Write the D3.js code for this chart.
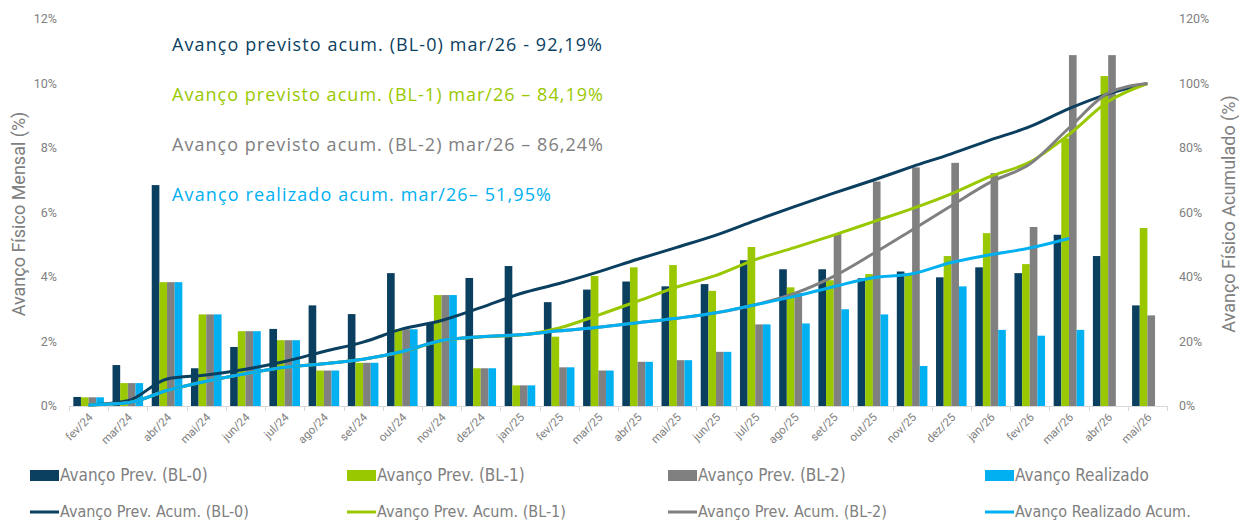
<!DOCTYPE html>
<html>
<head>
<meta charset="utf-8">
<script src="https://cdn.jsdelivr.net/npm/d3@7"></script>
<style>
  body { margin: 0; background: #fff; }
  svg { display: block; }
</style>
</head>
<body>
<svg id="chart"></svg>
<script>
var months = ["fev/24", "mar/24", "abr/24", "mai/24", "jun/24", "jul/24", "ago/24", "set/24", "out/24", "nov/24", "dez/24",
    "jan/25", "fev/25", "mar/25", "abr/25", "mai/25", "jun/25", "jul/25", "ago/25", "set/25", "out/25", "nov/25", "dez/25",
    "jan/26", "fev/26", "mar/26", "abr/26", "mai/26"];

// monthly (%)
var prevBL0 = [0.28, 1.27, 6.85, 1.17, 1.83, 2.39, 3.12, 2.85, 4.12, 2.57, 3.97, 4.34, 3.22, 3.61, 3.86, 3.71, 3.78, 4.52, 4.24, 4.24, 3.96, 4.17, 3.99, 4.30, 4.12, 5.31, 4.65, 3.12];
var prevBL1 = [0.27, 0.71, 3.84, 2.84, 2.32, 2.04, 1.10, 1.34, 2.38, 3.44, 1.17, 0.64, 2.15, 4.03, 4.30, 4.37, 3.57, 4.93, 3.68, 3.90, 4.09, 4.12, 4.65, 5.36, 4.40, 8.30, 10.23, 5.52];
var prevBL2 = [0.27, 0.71, 3.84, 2.84, 2.32, 2.04, 1.10, 1.34, 2.38, 3.44, 1.17, 0.64, 1.20, 1.10, 1.37, 1.42, 1.68, 2.53, 3.50, 5.33, 6.96, 7.40, 7.54, 7.22, 5.55, 10.88, 10.88, 2.81];
var realizado = [0.27, 0.71, 3.84, 2.84, 2.32, 2.04, 1.10, 1.34, 2.38, 3.44, 1.17, 0.64, 1.20, 1.10, 1.37, 1.42, 1.68, 2.53, 2.56, 3.00, 2.84, 1.24, 3.71, 2.36, 2.18, 2.36, null, null];

// cumulative (%)
var acumBL0 = [0.3, 1.6, 8.4, 9.6, 11.4, 13.8, 16.9, 19.8, 23.9, 26.5, 30.5, 34.8, 38.0, 41.6, 45.5, 49.2, 53.0, 57.5, 61.8, 66.0, 70.0, 74.2, 78.2, 82.5, 86.6, 92.2, 96.8, 100];
var acumBL1 = [0.3, 1.0, 4.8, 7.7, 10.0, 12.0, 13.1, 14.5, 16.8, 20.2, 21.4, 22.0, 24.2, 28.2, 32.5, 36.9, 40.5, 45.4, 49.1, 53.0, 57.1, 61.2, 65.8, 71.2, 75.6, 84.2, 94.4, 100];
var acumBL2 = [0.3, 1.0, 4.8, 7.7, 10.0, 12.0, 13.1, 14.5, 16.9, 20.3, 21.5, 22.1, 23.3, 24.4, 25.8, 27.2, 28.9, 31.4, 34.9, 40.2, 47.2, 54.6, 62.1, 69.4, 75.0, 86.2, 97.0, 100];
var acumReal = [0.3, 1.0, 4.8, 7.7, 10.0, 12.0, 13.1, 14.5, 16.9, 20.3, 21.5, 22.1, 23.3, 24.4, 25.8, 27.2, 28.9, 31.4, 34.0, 37.0, 39.8, 41.0, 44.5, 46.9, 49.0, 51.95, null, null];

var leftTicks = [0, 2, 4, 6, 8, 10, 12];
var rightTicks = [0, 20, 40, 60, 80, 100, 120];

var notes = [
    "Avanço previsto acum. (BL-0) mar/26 - 92,19%",
    "Avanço previsto acum. (BL-1) mar/26 – 84,19%",
    "Avanço previsto acum. (BL-2) mar/26 – 86,24%",
    "Avanço realizado acum. mar/26– 51,95%"
];
var noteWidths = [430, 431, 431, 379];

var barNames = ["Avanço Prev. (BL-0)", "Avanço Prev. (BL-1)", "Avanço Prev. (BL-2)", "Avanço Realizado"];
var lineNames = ["Avanço Prev. Acum. (BL-0)", "Avanço Prev. Acum. (BL-1)", "Avanço Prev. Acum. (BL-2)", "Avanço Realizado Acum."];

var colors = ["#0b3f5f", "#99c800", "#808080", "#00b0f0"];
var textGray = "#808080";

var W = 1239, H = 521;
var margin = { top: 19, right: 72, bottom: 115, left: 69 };

var svg = d3.select("#chart").attr("width", W).attr("height", H);

var x = d3.scaleBand()
    .domain(months)
    .range([margin.left, W - margin.right])
    .paddingInner(0.22)
    .paddingOuter(0.11);

var xs = d3.scaleBand().domain([0, 1, 2, 3]).range([0, x.bandwidth()]);

var yL = d3.scaleLinear().domain([0, 12]).range([H - margin.bottom, margin.top]);
var yR = d3.scaleLinear().domain([0, 120]).range([H - margin.bottom, margin.top]);

var barSeries = [prevBL0, prevBL1, prevBL2, realizado];
var lineSeries = [acumBL0, acumBL1, acumBL2, acumReal];

// x axis baseline + ticks at band boundaries
var x0 = margin.left, x1 = W - margin.right, yb = yL(0);
svg.append("line")
    .attr("x1", x0).attr("x2", x1).attr("y1", yb + 0.5).attr("y2", yb + 0.5)
    .attr("stroke", "#d9d9d9").attr("stroke-width", 1);
svg.append("g").selectAll("line")
    .data(d3.range(months.length + 1))
    .enter().append("line")
    .attr("x1", function (i) { return Math.round(x0 + i * x.step()) + 0.5; })
    .attr("x2", function (i) { return Math.round(x0 + i * x.step()) + 0.5; })
    .attr("y1", yb).attr("y2", yb + 5)
    .attr("stroke", "#d9d9d9");

// bars
var groups = svg.append("g").selectAll("g")
    .data(months)
    .enter().append("g")
    .attr("transform", function (d) { return "translate(" + x(d) + ",0)"; });

groups.selectAll("rect")
    .data(function (d, i) {
        return barSeries.map(function (s, k) { return { k: k, v: s[i] }; })
            .filter(function (o) { return o.v != null; });
    })
    .enter().append("rect")
    .attr("x", function (d) { return xs(d.k); })
    .attr("width", xs.bandwidth())
    .attr("y", function (d) { return yL(d.v); })
    .attr("height", function (d) { return yL(0) - yL(d.v); })
    .attr("fill", function (d) { return colors[d.k]; });

// cumulative lines
var line = d3.line()
    .defined(function (d) { return d.v != null; })
    .x(function (d) { return x(d.m) + x.bandwidth() / 2; })
    .y(function (d) { return yR(d.v); })
    .curve(d3.curveMonotoneX);

lineSeries.forEach(function (s, k) {
    svg.append("path")
        .datum(s.map(function (v, i) { return { m: months[i], v: v }; }))
        .attr("fill", "none")
        .attr("stroke", colors[k])
        .attr("stroke-width", 3)
        .attr("stroke-linejoin", "round")
        .attr("d", line);
});

// left axis labels
svg.append("g").selectAll("text")
    .data(leftTicks)
    .enter().append("text")
    .attr("x", 57).attr("y", function (d) { return yL(d); })
    .attr("dy", "0.35em")
    .attr("text-anchor", "end")
    .attr("font-family", "Roboto, sans-serif").attr("font-size", 12.5)
    .attr("fill", textGray)
    .text(function (d) { return d + "%"; });

// right axis labels
svg.append("g").selectAll("text")
    .data(rightTicks)
    .enter().append("text")
    .attr("x", 1179).attr("y", function (d) { return yR(d); })
    .attr("dy", "0.35em")
    .attr("font-family", "Roboto, sans-serif").attr("font-size", 12.5)
    .attr("fill", textGray)
    .text(function (d) { return d + "%"; });

// x labels
svg.append("g").selectAll("text")
    .data(months)
    .enter().append("text")
    .attr("transform", function (d) {
        return "translate(" + (x(d) + x.bandwidth() / 2 + 5) + "," + (yb + 12) + ") rotate(-45)";
    })
    .attr("text-anchor", "end")
    .attr("font-family", "Roboto, sans-serif").attr("font-size", 11.5)
    .attr("fill", textGray)
    .text(function (d) { return d; });

// axis titles
svg.append("text")
    .attr("transform", "translate(25,214) rotate(-90)")
    .attr("text-anchor", "middle")
    .attr("font-family", "Roboto, sans-serif").attr("font-size", 18)
    .attr("fill", textGray)
    .text("Avanço Físico Mensal (%)");

svg.append("text")
    .attr("transform", "translate(1235,214) rotate(-90)")
    .attr("text-anchor", "middle")
    .attr("font-family", "Roboto, sans-serif").attr("font-size", 18)
    .attr("fill", textGray)
    .text("Avanço Físico Acumulado (%)");

// annotations
svg.append("g").selectAll("text")
    .data(notes)
    .enter().append("text")
    .attr("x", 172)
    .attr("y", function (d, i) { return 51 + i * 50; })
    .attr("font-family", "'Open Sans', sans-serif").attr("font-size", 18)
    .attr("textLength", function (d, i) { return noteWidths[i]; })
    .attr("lengthAdjust", "spacing")
    .attr("fill", function (d, i) { return colors[i]; })
    .text(function (d) { return d; });

// legend
var legX = [30, 347, 668, 985];
var leg1 = svg.append("g").selectAll("g")
    .data(barNames)
    .enter().append("g")
    .attr("transform", function (d, i) { return "translate(" + legX[i] + ",470)"; });
leg1.append("rect").attr("width", 29).attr("height", 11)
    .attr("fill", function (d, i) { return colors[i]; });
leg1.append("text").attr("x", 30).attr("y", 11)
    .attr("font-family", "'DejaVu Sans Condensed', sans-serif").attr("font-size", 17)
    .attr("fill", textGray)
    .text(function (d) { return d; });

var leg2 = svg.append("g").selectAll("g")
    .data(lineNames)
    .enter().append("g")
    .attr("transform", function (d, i) { return "translate(" + legX[i] + ",512)"; });
leg2.append("line").attr("x1", 0).attr("x2", 29)
    .attr("stroke", function (d, i) { return colors[i]; })
    .attr("stroke-width", 3);
leg2.append("text").attr("x", 30).attr("y", 4.5)
    .attr("font-family", "'DejaVu Sans Condensed', sans-serif").attr("font-size", 16)
    .attr("fill", textGray)
    .text(function (d) { return d; });
</script>
</body>
</html>
